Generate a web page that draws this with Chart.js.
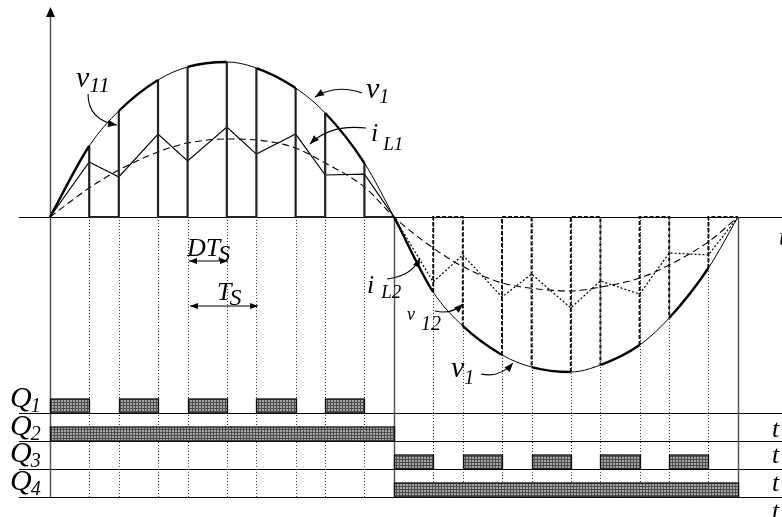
<!DOCTYPE html>
<html>
<head>
<meta charset="utf-8">
<script src="https://cdn.jsdelivr.net/npm/chart.js@4"></script>
<style>
  html, body { margin: 0; background: #fff; }
  canvas { display: block; }
</style>
</head>
<body>
<canvas id="chart" width="782" height="517"></canvas>
<script>
// time in switching periods Ts (one line half-cycle = 5 Ts), values normalised to the v1 peak
const cycleT = [0, 0.57, 1, 1.57, 2, 2.57, 3, 3.57, 4, 4.57, 5, 5.57, 6, 6.57, 7, 7.57, 8, 8.57, 9, 9.57, 10];
const v1 = [0, 0.458, 0.684, 0.884, 0.968, 1.0, 0.961, 0.832, 0.671, 0.348, 0,
            -0.484, -0.703, -0.89, -0.968, -1.0, -0.955, -0.826, -0.652, -0.329, 0];
const iL = [0, 0.355, 0.258, 0.535, 0.361, 0.581, 0.406, 0.535, 0.271, 0.277, 0,
            -0.419, -0.245, -0.516, -0.368, -0.587, -0.413, -0.497, -0.232, -0.245, 0];
const iLavg = [0, 0.187, 0.303, 0.42, 0.477, 0.503, 0.497, 0.445, 0.348, 0.194, 0,
               -0.2, -0.32, -0.425, -0.46, -0.477, -0.452, -0.394, -0.31, -0.16, 0];

// gate on-intervals
const q1On = [[0, 0.57], [1, 1.57], [2, 2.57], [3, 3.57], [4, 4.57]];
const q2On = [[0, 5]];
const q3On = [[5, 5.57], [6, 6.57], [7, 7.57], [8, 8.57], [9, 9.57]];
const q4On = [[5, 10]];
const gateNames = ['1', '2', '3', '4'];

const serif = '"Liberation Serif", "DejaVu Serif", serif';

const pts = (from, to, arr) => {
    const out = [];
    for (let i = from; i <= to; i++) out.push({ x: cycleT[i], y: arr[i] });
    return out;
};

// v11 / v12 : drop to zero while the switch is off
const pulses = (from, to) => {
    const out = [];
    for (let i = from; i < to; i += 2) {
        out.push({ x: cycleT[i], y: v1[i] }, { x: cycleT[i], y: 0 },
                 { x: cycleT[i + 1], y: 0 }, { x: cycleT[i + 1], y: v1[i + 1] },
                 { x: cycleT[i + 1], y: null });
    }
    return out;
};

// gray dotted fill like the scan
const pc = document.createElement('canvas');
pc.width = 3; pc.height = 3;
const pg = pc.getContext('2d');
pg.fillStyle = '#a4a4a4'; pg.fillRect(0, 0, 3, 3);
pg.fillStyle = '#4e4e4e'; pg.fillRect(0, 0, 3, 1); pg.fillRect(0, 0, 1, 3);

const rowBase = [413, 441, 469, 497];
const rowH = 14;

function arrowHead(ctx, x0, y0, x1, y1, len = 9, w = 3.5) {
    const a = Math.atan2(y1 - y0, x1 - x0);
    ctx.beginPath();
    ctx.moveTo(x1, y1);
    ctx.lineTo(x1 - len * Math.cos(a) + w * Math.sin(a), y1 - len * Math.sin(a) - w * Math.cos(a));
    ctx.lineTo(x1 - len * Math.cos(a) - w * Math.sin(a), y1 - len * Math.sin(a) + w * Math.cos(a));
    ctx.closePath();
    ctx.fill();
}

function curvedArrow(ctx, x0, y0, cx, cy, x1, y1) {
    ctx.beginPath();
    ctx.moveTo(x0, y0);
    ctx.quadraticCurveTo(cx, cy, x1, y1);
    ctx.stroke();
    arrowHead(ctx, cx, cy, x1, y1);
}

function doubleArrow(ctx, x0, x1, y) {
    ctx.beginPath();
    ctx.moveTo(x0, y); ctx.lineTo(x1, y);
    ctx.stroke();
    arrowHead(ctx, x1, y, x0, y, 8, 3);
    arrowHead(ctx, x0, y, x1, y, 8, 3);
}

function label(ctx, main, sub, x, y, size, subSize, dx, dy) {
    ctx.font = `italic ${size}px ${serif}`;
    ctx.fillText(main, x, y);
    if (sub) {
        const w = ctx.measureText(main).width;
        ctx.font = `italic ${subSize}px ${serif}`;
        ctx.fillText(sub, x + w + dx, y + dy);
    }
}

const diagram = {
    id: 'diagram',
    beforeDatasetsDraw(chart) {
        const { ctx } = chart;
        const X = t => chart.scales.x.getPixelForValue(t);
        const y0 = chart.scales.y.getPixelForValue(0);
        ctx.save();
        ctx.strokeStyle = '#000';
        ctx.lineWidth = 1.2;
        // baseline and row lines
        [y0, ...rowBase].forEach(y => {
            ctx.beginPath(); ctx.moveTo(19, y + 0.5); ctx.lineTo(782, y + 0.5); ctx.stroke();
        });
        // dotted switching instants
        ctx.lineWidth = 1;
        ctx.strokeStyle = '#333';
        ctx.setLineDash([1, 2]);
        cycleT.forEach(t => {
            if (t === 0 || t === 5 || t === 10) return;
            const x = Math.round(X(t)) + 0.5;
            ctx.beginPath(); ctx.moveTo(x, y0); ctx.lineTo(x, rowBase[3]); ctx.stroke();
        });
        ctx.setLineDash([]);
        // solid verticals
        ctx.strokeStyle = '#555';
        ctx.lineWidth = 1.5;
        [[0, 10], [5, y0], [10, y0]].forEach(([t, top]) => {
            const x = Math.round(X(t)) + 0.5;
            ctx.beginPath(); ctx.moveTo(x, top); ctx.lineTo(x, rowBase[3]); ctx.stroke();
        });
        ctx.fillStyle = '#000';
        arrowHead(ctx, X(0) + 0.5, 30, X(0) + 0.5, 7, 10, 4.5);
        ctx.restore();
    },
    afterDatasetsDraw(chart) {
        const { ctx } = chart;
        const X = t => chart.scales.x.getPixelForValue(t);
        ctx.save();
        // gate signals
        ctx.fillStyle = ctx.createPattern(pc, 'repeat');
        ctx.strokeStyle = '#111';
        ctx.lineWidth = 1.3;
        [q1On, q2On, q3On, q4On].forEach((ons, r) => {
            ons.forEach(([a, b]) => {
                const xa = Math.round(X(a)) + 0.5, xb = Math.round(X(b)) + 0.5;
                ctx.fillRect(xa, rowBase[r] - rowH, xb - xa, rowH);
                ctx.strokeRect(xa, rowBase[r] - rowH, xb - xa, rowH);
            });
        });

        ctx.fillStyle = '#000';
        ctx.strokeStyle = '#000';
        ctx.lineWidth = 1.1;
        // gate labels
        const qBase = [407, 435, 462, 490];
        gateNames.forEach((n, r) => label(ctx, 'Q', n, 10, qBase[r], 30, 20, -1, 5));
        // t labels at the right edge
        ctx.font = `italic 26px ${serif}`;
        ctx.fillText('t', 779, 245);
        [437, 463, 491, 519].forEach(y => ctx.fillText('t', 772, y));

        // waveform labels
        label(ctx, 'v', '11', 76, 87, 30, 22, 0, 5);
        label(ctx, 'v', '1', 366, 98, 30, 20, 0, 5);
        label(ctx, 'i', 'L1', 371, 141, 26, 19, 5, 9);
        label(ctx, 'DT', 'S', 187, 256, 26, 24, -2, 5);
        label(ctx, 'T', 'S', 217, 300, 26, 24, -2, 5);
        label(ctx, 'i', 'L2', 367, 293, 26, 19, 7, 5);
        label(ctx, 'v', '12', 407, 320, 18, 20, 6, 10);
        label(ctx, 'v', '1', 451, 377, 30, 20, 0, 7);

        // arrows
        curvedArrow(ctx, 88, 94, 88, 120, 117, 125);
        curvedArrow(ctx, 362, 93, 336, 84, 315, 97);
        curvedArrow(ctx, 366, 128, 330, 124, 310, 144);
        curvedArrow(ctx, 387, 279, 412, 276, 420, 258);
        curvedArrow(ctx, 435, 311, 451, 315, 463, 304);
        curvedArrow(ctx, 481, 374, 500, 378, 513, 363);
        doubleArrow(ctx, 189, 228, 261);
        doubleArrow(ctx, 190, 258, 306);
        ctx.restore();
    }
};

new Chart(document.getElementById('chart'), {
    type: 'line',
    data: {
        datasets: [
            {
                label: 'v1',
                data: pts(0, 20, v1),
                borderColor: '#000',
                borderWidth: 1,
                cubicInterpolationMode: 'monotone',
                segment: {
                    borderWidth: c => (c.p0DataIndex % 2 === 0 ? 2.4 : 1)
                }
            },
            {
                label: 'v11',
                data: pulses(1, 10),
                borderColor: '#222',
                borderWidth: 2.2,
                tension: 0
            },
            {
                label: 'v12',
                data: pulses(11, 20),
                borderColor: '#111',
                borderWidth: 2,
                borderDash: [4, 2],
                tension: 0
            },
            {
                label: 'iL1',
                data: pts(0, 10, iL),
                borderColor: '#000',
                borderWidth: 1.2,
                tension: 0
            },
            {
                label: 'iL2',
                data: pts(10, 20, iL),
                borderColor: '#000',
                borderWidth: 1.2,
                borderDash: [2, 2],
                tension: 0
            },
            {
                label: 'iL avg',
                data: pts(0, 20, iLavg),
                borderColor: '#000',
                borderWidth: 1.1,
                borderDash: [7, 4],
                cubicInterpolationMode: 'monotone'
            }
        ]
    },
    options: {
        responsive: false,
        animation: false,
        layout: { padding: 0 },
        elements: { point: { radius: 0 } },
        plugins: { legend: { display: false }, tooltip: { enabled: false } },
        scales: {
            x: { type: 'linear', display: false, min: -50 / 68.8, max: 732 / 68.8 },
            y: { display: false, min: -300 / 155, max: 217 / 155 }
        }
    },
    plugins: [diagram]
});
</script>
</body>
</html>
